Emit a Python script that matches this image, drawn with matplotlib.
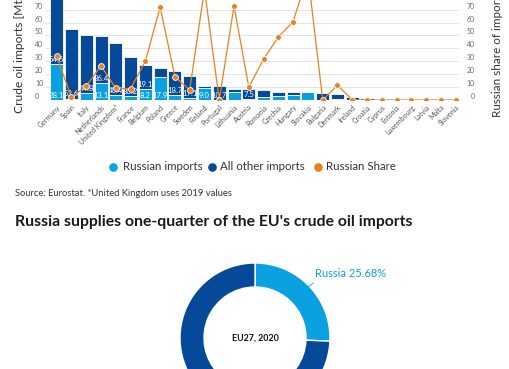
import matplotlib
matplotlib.use("Agg")
import matplotlib.pyplot as plt
from matplotlib.transforms import ScaledTranslation
import numpy as np

# ---------------- data ----------------
countries = ["Germany", "Spain", "Italy", "Netherlands", "United Kingdom*", "France",
             "Belgium", "Poland", "Greece", "Sweden", "Finland", "Portugal",
             "Lithuania", "Austria", "Romania", "Czechia", "Hungary", "Slovakia",
             "Bulgaria", "Denmark", "Ireland", "Croatia", "Cyprus", "Estonia",
             "Luxembourg", "Latvia", "Malta", "Slovenia"]
russian_imports = [28.1, 1.1, 5.5, 13.1, 4.0, 2.9, 8.2, 17.9, 4.1, 1.4, 9.0, 0.0,
                   6.5, 0.8, 2.5, 3.1, 3.9, 6.0, 0.0, 0.5, 0.0, 0.0, 0, 0, 0, 0, 0, 0]
other_imports = [54.6, 53.6, 44.8, 36.4, 40.4, 30.2, 19.1, 6.7, 18.7, 17.1, 1.9, 10.7,
                 2.4, 7.5, 5.3, 3.3, 2.5, 0.0, 5.2, 3.9, 2.6, 1.8, 0, 0, 0, 0, 0, 0]
russian_share = [34.0, 2.0, 10.9, 26.5, 9.0, 8.8, 30.0, 72.0, 18.0, 7.8, 86.0, 0.0,
                 72.9, 9.8, 31.8, 48.8, 60.7, 97.0, 0.0, 11.5, 0, 0, 0, 0, 0, 0, 0, 0]
y_ticks = [0, 10, 20, 30, 40, 50, 60, 70]
donut_labels = ["Russia", "Other"]
donut_values = [25.68, 74.32]

LIGHT = "#0aa0e2"
DARK = "#06499a"
ORANGE = "#e8821e"
TXT = "#333333"

W, H = 510, 369
plt.rcParams["font.family"] = ["Lato", "DejaVu Sans"]
fig = plt.figure(figsize=(W / 100, H / 100), dpi=100)
renderer = fig.canvas.get_renderer()


def fx(px):
    return px / W


def fy(py):
    return 1 - py / H


# ---------------- bar chart ----------------
L, R, YTOP, YBOT = 46, 459, -30, 100
PX_PER_UNIT = 1.29
SPACING = 14.78
ax = fig.add_axes([fx(L), fy(YBOT), (R - L) / W, (YBOT - YTOP) / H])
x = np.arange(len(countries))
ax.set_xlim(-(56.7 - L) / SPACING, 27 + (R - 455.7) / SPACING)
ymax = (YBOT - YTOP) / PX_PER_UNIT
ax.set_ylim(0, ymax)

ax.bar(x, russian_imports, width=0.88, color=LIGHT, edgecolor="white", linewidth=0.6, zorder=2)
ax.bar(x, other_imports, bottom=russian_imports, width=0.88, color=DARK,
       edgecolor="white", linewidth=0.6, zorder=2)

for i in range(len(countries)):
    if russian_imports[i] >= 7:
        ax.annotate(f"{russian_imports[i]:.1f}", (i, 0), xytext=(0, 0.8),
                    textcoords="offset points", ha="center", va="bottom",
                    fontsize=5.6, color="white", zorder=4)
    if other_imports[i] >= 7:
        ax.annotate(f"{other_imports[i]:.1f}", (i, russian_imports[i]), xytext=(0, 0.8),
                    textcoords="offset points", ha="center", va="bottom",
                    fontsize=5.6, color="white", zorder=4)

ax.set_yticks(np.arange(0, 101, 10))
ax.set_yticklabels([])
ax.tick_params(axis="y", length=0)
ax.yaxis.grid(True, color="#e3e3e3", linewidth=0.7, zorder=0)
ax.set_axisbelow(True)
for s in ax.spines.values():
    s.set_visible(False)
ax.set_xticks(x)
ax.set_xticklabels(countries, rotation=45, ha="right", va="top",
                   rotation_mode="anchor", fontsize=5, color="#555555")
ax.tick_params(axis="x", length=0, pad=2.5)

ax2 = ax.twinx()
ax2.set_ylim(0, ymax)
ax2.plot(x, russian_share, color=ORANGE, lw=0.9, marker="o", ms=4.2,
         mfc=ORANGE, mec="white", mew=0.6, zorder=5)
ax2.set_yticks([])
for s in ax2.spines.values():
    s.set_visible(False)

up = ScaledTranslation(0, 3.5 / 100, fig.dpi_scale_trans)
tl = ax.get_yaxis_transform() + up
for v in y_ticks:
    ax.text((35 - L) / (R - L), v, str(v), transform=tl, ha="left", va="center",
            fontsize=5, color="#666666")
    ax.text((475 - L) / (R - L), v, str(v), transform=tl, ha="right", va="center",
            fontsize=5, color="#666666")

# ---------------- overlay for free texts ----------------
ov = fig.add_axes([0, 0, 1, 1])
ov.set_xlim(0, W)
ov.set_ylim(H, 0)
ov.axis("off")


def fit(xp, yp, s, width, size=9, rot=0, **kw):
    t = ov.text(xp, yp, s, fontsize=size, rotation=rot, **kw)
    bb = t.get_window_extent(renderer)
    cur = bb.height if rot in (90, 270) else bb.width
    t.set_fontsize(size * width / cur)
    return t


fit(20, 113, "Crude oil imports [Mt]", 118, rot=90, ha="center", va="bottom", color=TXT)
fit(498, 117, "Russian share of imports", 126, rot=90, ha="center", va="bottom", color=TXT)

# legend
leg_y = 167
ov.plot([113], [leg_y], "o", ms=5.2, color=LIGHT)
ov.plot([211.7], [leg_y], "o", ms=5.2, color=DARK)
ov.plot([317.7], [leg_y], "o", ms=5.2, color=ORANGE)
t = fit(220, leg_y, "All other imports", 85, ha="left", va="center", color=TXT)
fs = t.get_fontsize()
ov.text(123, leg_y, "Russian imports", fontsize=fs, ha="left", va="center", color=TXT)
ov.text(326, leg_y, "Russian Share", fontsize=fs, ha="left", va="center", color=TXT)

fit(15, 194, "Source: Eurostat. *United Kingdom uses 2019 values", 219,
    ha="left", va="center", color=TXT)
fit(15, 222, "Russia supplies one-quarter of the EU's crude oil imports", 396,
    ha="left", va="center", color="#1a1a1a", fontweight="bold")

# ---------------- donut ----------------
CX, CY, RAD = 255, 338, 75
pax = fig.add_axes([fx(CX - RAD), fy(CY + RAD), 2 * RAD / W, 2 * RAD / H])
pax.pie(donut_values, colors=[LIGHT, DARK], startangle=90, counterclock=False,
        radius=1, wedgeprops=dict(width=0.32, edgecolor="white", linewidth=1))
pax.set_xlim(-1, 1)
pax.set_ylim(-1, 1)
pax.axis("off")

mid = np.deg2rad(90 - donut_values[0] / 100 * 360 / 2)
pax.plot([0.97 * np.cos(mid), 1.06 * np.cos(mid) + 0.01],
         [0.97 * np.sin(mid), 1.06 * np.sin(mid)], color=LIGHT, lw=0.6, clip_on=False)
t = pax.text(1.06 * np.cos(mid) + 0.03, 1.06 * np.sin(mid) + 0.05,
             f"{donut_labels[0]} {donut_values[0]:.2f}%", ha="left", va="bottom",
             fontsize=9, color=LIGHT)
bb = t.get_window_extent(renderer)
t.set_fontsize(9 * 71 / bb.width)

fit(CX, CY, "EU27, 2020", 47, ha="center", va="center", color="#111111", fontweight="bold")

fig.savefig("out.png", dpi=100)
